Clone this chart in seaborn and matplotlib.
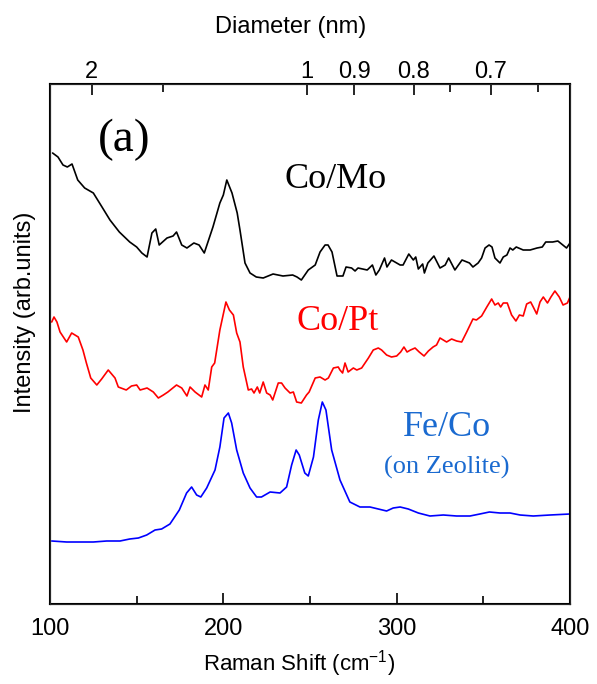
import matplotlib
matplotlib.use("Agg")
import matplotlib.pyplot as plt
import seaborn as sns
import pandas as pd
import numpy as np

# Raman spectra (intensity in arbitrary units)
como_x = [101.5, 104.6, 107.5, 110, 112.7, 116, 120, 125, 130, 134.6, 140, 146, 150, 153, 156,
          158.8, 161, 163, 167.5, 171, 173, 176, 179, 183, 186, 189, 194, 198, 200, 202, 205,
          208, 209.6, 212.5, 215.4, 219, 223, 228.7, 234.4, 240, 242.5, 245, 249, 253, 255.8,
          258.7, 260.4, 262.7, 265.6, 269, 270.8, 274, 276, 277.7, 283, 286, 288, 290, 293,
          294.4, 297, 302, 303.7, 307, 309.6, 311, 312.5, 315, 316, 318, 321.5, 325, 328, 330,
          333.6, 337.7, 342, 344, 347, 349, 351, 353.3, 355, 356.7, 359.6, 361.5, 363.6, 365.4,
          367, 369, 373, 377, 381, 384, 386, 390, 393, 398, 400]
como_y = [451, 447, 439, 437, 440, 424, 416, 411, 397, 384, 372, 362, 357, 351, 347,
          371, 375, 359, 366, 368, 372, 359, 356, 361, 359, 351, 377, 401, 409, 424, 411,
          391, 374, 341, 331, 327, 326, 330, 328, 329, 327, 324, 334, 339, 352,
          359, 359, 352, 328, 328, 337, 336, 333, 336, 334, 339, 329, 334, 346,
          337, 344, 339, 339, 350, 344, 347, 335, 340, 331, 341, 348, 336, 339, 346,
          334, 344, 341, 337, 341, 346, 356, 359, 357, 346, 341, 347, 349, 356,
          354, 357, 354, 354, 356, 357, 362, 362, 363, 356, 361]

copt_x = [101, 102.3, 104, 105.8, 109.6, 112.5, 116.3, 119, 121, 123.5, 127, 129.8, 133.6,
          137.5, 139.4, 144, 147, 150, 152, 156, 159.6, 162.5, 165.4, 168, 173, 176, 179,
          180.8, 183.7, 187.5, 189.4, 191.3, 193.3, 195, 198, 201.5, 203.5, 205.8, 207.7,
          209.6, 211.5, 214.4, 216.3, 217.7, 219.6, 221, 223, 225, 227, 228.5, 231.7, 233.6,
          235.6, 238.5, 240.4, 242.3, 245, 248, 249.5, 253, 255.8, 258.7, 260.6, 263.5, 266.3,
          267.3, 268.8, 270.2, 272, 275, 277, 279.8, 283.7, 286.5, 289.4, 291.3, 294.2, 297,
          300, 302.3, 304.2, 306, 308, 310.6, 313, 315.8, 318.3, 321, 323, 325, 328.8, 331.7,
          334.6, 337.5, 340.4, 344, 346, 349, 352, 354.8, 356.7, 358.6, 360, 361.5, 363.8,
          366.3, 368.8, 370.8, 373, 375, 377.3, 378.8, 380.8, 382.7, 384.6, 387, 389, 391.3,
          393.8, 396, 398.5, 400]
copt_y = [282, 287, 282, 272, 262, 271, 267, 254, 241, 226, 219, 225, 234,
          226, 217, 214, 218, 219, 214, 216, 212, 206, 209, 212, 219, 216, 208,
          217, 212, 207, 219, 214, 237, 241, 274, 302, 294, 289, 271,
          262, 237, 214, 215, 211, 217, 211, 222, 211, 209, 204, 221, 221,
          216, 211, 212, 202, 201, 209, 212, 226, 227, 224, 226, 236, 237,
          234, 231, 241, 232, 236, 234, 236, 246, 254, 256, 254, 249, 247,
          248, 252, 257, 252, 254, 256, 252, 248, 253, 257, 259, 266, 262, 265,
          263, 262, 272, 285, 284, 288, 297, 305, 299, 301, 297, 301, 301,
          289, 283, 289, 288, 300, 302, 297, 290, 302, 307, 301, 307, 313,
          307, 299, 301, 307]

feco_x = [101, 109.6, 117.3, 125, 132.7, 140.4, 146, 151, 155.8, 160.6, 164.4, 169.2, 174.6,
          178.8, 181.7, 184.6, 187, 190.4, 195.2, 198, 200.4, 202.9, 204.8, 207.7, 211.5,
          215.4, 219.2, 222, 227, 232.7, 236.5, 239.4, 242, 243.8, 247, 249, 252, 254.8,
          257.1, 259.2, 262.5, 267.3, 273, 278.8, 284.6, 289.4, 294.2, 298, 302, 306.7,
          312.5, 319.2, 326.9, 334.6, 342.3, 348, 353.5, 359.6, 365.4, 371.2, 378.8, 388.5, 400]
feco_y = [63, 62, 62, 62, 63, 63, 65, 66, 69, 74, 75, 80, 94,
          111, 117, 109, 107, 116, 134, 157, 186, 191, 181, 154, 131,
          116, 107, 107, 112, 111, 117, 139, 154, 149, 131, 128, 147, 184,
          202, 194, 154, 124, 102, 97, 97, 95, 93, 96, 97, 95,
          91, 88, 89, 88, 88, 90, 92, 91, 91, 89, 88, 89, 90]

diam_major = [2, 1, 0.9, 0.8, 0.7]
diam_minor = [1.5, 0.75, 0.65]
diam_labels = ["2", "1", "0.9", "0.8", "0.7"]

sns.set_style("ticks")
plt.rcParams['font.family'] = ['Liberation Sans', 'DejaVu Sans']
plt.rcParams['mathtext.fontset'] = 'custom'
plt.rcParams['mathtext.rm'] = 'Liberation Sans'
plt.rcParams['text.color'] = 'black'
plt.rcParams['axes.labelcolor'] = 'black'
plt.rcParams['xtick.color'] = 'black'

fig = plt.figure(figsize=(5.97, 6.84), dpi=100)
ax = fig.add_axes([50 / 597, 80 / 684, 520 / 597, 520 / 684])

spectra = [(como_x, como_y, "black"), (copt_x, copt_y, "red"), (feco_x, feco_y, "blue")]
for xs, ys, col in spectra:
    df = pd.DataFrame({"shift": xs, "intensity": ys})
    sns.lineplot(data=df, x="shift", y="intensity", color=col, lw=1.2, ax=ax, sort=False)

ax.set_xlim(100, 400)
ax.set_ylim(0, 520)
ax.set_yticks([])
ax.set_xticks([100, 200, 300, 400])
ax.set_xticks([150, 250, 350], minor=True)
ax.tick_params(axis="x", which="major", direction="in", length=8, width=1.2, labelsize=17, pad=10)
ax.tick_params(axis="x", which="minor", direction="in", length=6, width=1.2)
ax.set_xlabel("Raman Shift (cm$^{-1}$)", fontsize=16)
ax.xaxis.set_label_coords(0.48, -0.085)
ax.set_ylabel("Intensity (arb.units)", fontsize=17)
ax.yaxis.set_label_coords(-0.027, 0.56)
for sp in ax.spines.values():
    sp.set_linewidth(1.5)
    sp.set_color("black")

# top axis: tube diameter, omega = 248 / d
top = ax.twiny()
top.set_xlim(100, 400)
top.set_xticks([248 / d for d in diam_major])
top.set_xticklabels(diam_labels)
top.set_xticks([248 / d for d in diam_minor], minor=True)
top.tick_params(axis="x", which="major", direction="in", length=8, width=1.2, labelsize=17, pad=1)
top.tick_params(axis="x", which="minor", direction="in", length=6, width=1.2)
top.set_xlabel("Diameter (nm)", fontsize=17)
top.xaxis.set_label_coords(0.463, 1.098)

serif = ['Liberation Serif', 'DejaVu Serif']
ax.text(143, 464, "(a)", fontsize=34, family=serif, ha="center", va="center")
ax.text(265, 424, "Co/Mo", fontsize=26, family=serif, color="black", ha="center", va="center")
ax.text(266, 282, "Co/Pt", fontsize=26, family=serif, color="red", ha="center", va="center")
ax.text(329, 176, "Fe/Co", fontsize=26, family=serif, color="#1a6ad0", ha="center", va="center")
ax.text(329, 137, "(on Zeolite)", fontsize=19, family=serif, color="#1a6ad0", ha="center", va="center")

fig.savefig("out.png", dpi=100)
